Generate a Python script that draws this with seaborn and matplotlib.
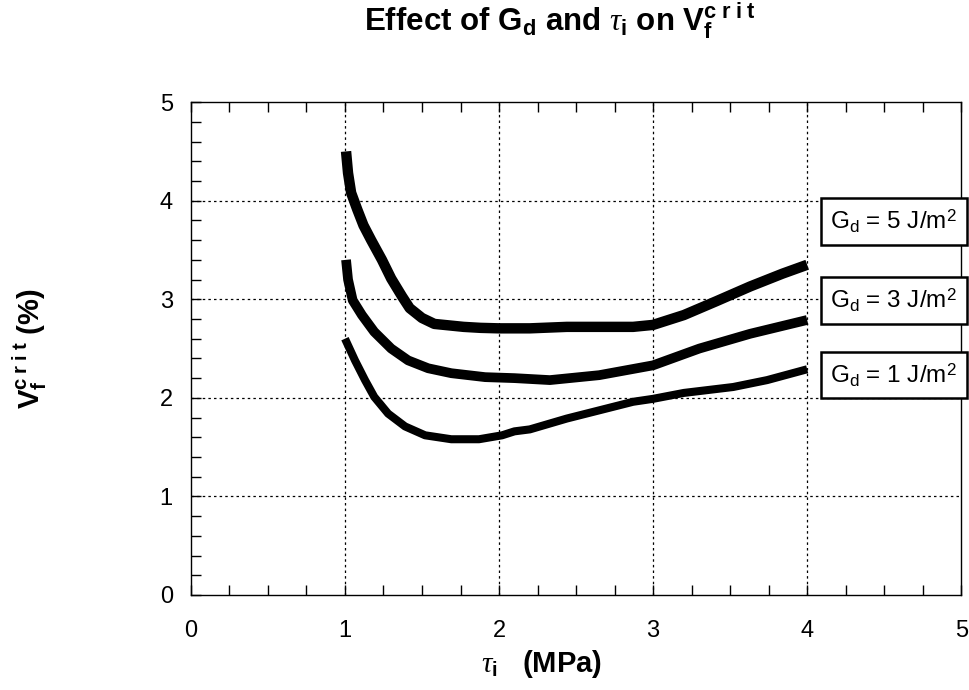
import matplotlib
matplotlib.use("Agg")
import matplotlib.pyplot as plt
import seaborn as sns
import pandas as pd

# ---- data ----
tau_g5 = [1.007, 1.02, 1.04, 1.08, 1.12, 1.17, 1.24, 1.30, 1.37, 1.42, 1.50, 1.58, 1.77, 1.88, 2.00, 2.20, 2.44, 2.87, 3.00, 3.20, 3.41, 3.63, 3.84, 4.00]
vf_g5  = [4.50, 4.28, 4.08, 3.91, 3.75, 3.60, 3.40, 3.21, 3.03, 2.91, 2.81, 2.75, 2.72, 2.71, 2.705, 2.705, 2.72, 2.72, 2.74, 2.84, 2.98, 3.13, 3.26, 3.35]

tau_g3 = [1.007, 1.02, 1.05, 1.11, 1.19, 1.30, 1.41, 1.54, 1.69, 1.91, 2.10, 2.33, 2.65, 3.00, 3.30, 3.63, 4.00]
vf_g3  = [3.40, 3.20, 2.99, 2.84, 2.67, 2.50, 2.38, 2.30, 2.25, 2.21, 2.20, 2.18, 2.23, 2.33, 2.50, 2.65, 2.79]

tau_g1 = [1.00, 1.065, 1.13, 1.19, 1.28, 1.39, 1.52, 1.69, 1.87, 2.02, 2.10, 2.20, 2.44, 2.87, 3.00, 3.20, 3.52, 3.74, 4.00]
vf_g1  = [2.60, 2.38, 2.18, 2.01, 1.84, 1.71, 1.62, 1.58, 1.58, 1.62, 1.66, 1.68, 1.79, 1.96, 1.99, 2.05, 2.11, 2.18, 2.29]

box_labels = [r"G$_\mathrm{d}$ = 5 J/m$^2$", r"G$_\mathrm{d}$ = 3 J/m$^2$", r"G$_\mathrm{d}$ = 1 J/m$^2$"]
box_y = [3.79, 2.99, 2.23]

xticks = [0, 1, 2, 3, 4, 5]
yticks = [0, 1, 2, 3, 4, 5]

sns.set_theme(style="ticks")
plt.rcParams["font.family"] = ["Liberation Sans", "DejaVu Sans"]
plt.rcParams["mathtext.fontset"] = "custom"
plt.rcParams["mathtext.rm"] = "Liberation Sans"
plt.rcParams["mathtext.bf"] = "Liberation Sans:bold"
plt.rcParams["mathtext.it"] = "Liberation Serif:italic"
for k in ["text.color", "axes.labelcolor", "xtick.color", "ytick.color", "axes.edgecolor"]:
    plt.rcParams[k] = "black"

fig = plt.figure(figsize=(9.69, 6.90), dpi=100)
ax = fig.add_axes([0.197, 0.1377, 0.795, 0.7143])

curves = [(tau_g5, vf_g5, 7.5), (tau_g3, vf_g3, 7.0), (tau_g1, vf_g1, 5.8)]
for t, v, lw in curves:
    df = pd.DataFrame({"tau": t, "vf": v})
    sns.lineplot(data=df, x="tau", y="vf", ax=ax, color="black", lw=lw,
                 sort=False, estimator=None, solid_capstyle="butt",
                 solid_joinstyle="round", zorder=3)

ax.set_xlim(0, 5)
ax.set_ylim(0, 5)
ax.set_xticks(xticks)
ax.set_yticks(yticks)
ax.set_xticks([i * 0.25 for i in range(21)], minor=True)
ax.set_yticks([i * 0.2 for i in range(26)], minor=True)
ax.tick_params(axis="both", which="both", direction="in", length=7, width=1,
               color="black", labelsize=17, labelcolor="black", top=True, right=False)
ax.tick_params(axis="x", which="major", pad=18)
ax.tick_params(axis="y", which="major", pad=13)

for g in [1, 2, 3, 4]:
    ax.axvline(g, color="black", lw=0.9, ls=(0, (2, 2.5)), zorder=1)
    ax.axhline(g, color="black", lw=0.9, ls=(0, (2, 2.5)), zorder=1)

for s in ax.spines.values():
    s.set_color("black")
    s.set_linewidth(1.0)

ax.set_xlabel(r"$\tau_\mathbf{i}$   (MPa)", fontsize=21, fontweight="bold")
ax.xaxis.set_label_coords(0.455, -0.108)
ax.set_ylabel(r"V$_\mathbf{f}^\mathbf{c\ r\ i\ t}$ (%)", fontsize=21, fontweight="bold", labelpad=80)
fig.text(0.578, 0.97, r"Effect of G$_\mathbf{d}$ and $\tau_\mathbf{i}$ on V$_\mathbf{f}^\mathbf{c\ r\ i\ t}$",
         fontsize=22.5, fontweight="bold", ha="center", va="center")

for lab, yv in zip(box_labels, box_y):
    ax.text(4.15, yv, lab, fontsize=17.5, ha="left", va="center", clip_on=False, zorder=5,
            bbox=dict(boxstyle="square,pad=0.4", fc="white", ec="black", lw=1.8))

fig.savefig("out.png", dpi=100)
